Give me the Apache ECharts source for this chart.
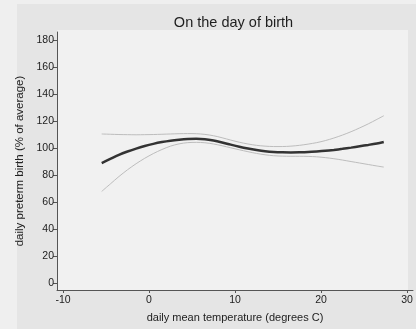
<!DOCTYPE html>
<html>
<head>
<meta charset="utf-8">
<script src="https://cdn.jsdelivr.net/npm/echarts@6/dist/echarts.min.js"></script>
<style>
html,body{margin:0;padding:0;background:#efefef;}
#chart{width:416px;height:329px;}
</style>
</head>
<body>
<div id="chart"></div>
<script>
const titleText = "On the day of birth";
const xAxisTitle = "daily mean temperature (degrees C)";
const yAxisTitle = "daily preterm birth (% of average)";
const xTicks = [-10, 0, 10, 20, 30];
const yTicks = [0, 20, 40, 60, 80, 100, 120, 140, 160, 180];
const temperature = [-5.5, -4.5, -3.5, -2.5, -1.5, -0.5, 0.5, 1.5, 2.5, 3.5, 4.5, 5.5, 6.5, 7.5, 8.5, 9.5, 10.5,
  11.5, 12.5, 13.5, 14.5, 15.5, 16.5, 17.5, 18.5, 19.5, 20.5, 21.5, 22.5, 23.5, 24.5, 25.5, 26.5, 27.3];
const estimate = [89, 92, 95, 97.5, 99.7, 101.6, 103.2, 104.5, 105.5, 106.2, 106.7, 106.9, 106.6, 105.6, 104.2, 102.6, 101.1,
  99.8, 98.7, 97.8, 97.2, 96.9, 96.8, 96.9, 97.1, 97.5, 98.0, 98.7, 99.5, 100.4, 101.4, 102.4, 103.5, 104.6];
const upperCI = [110.5, 110.3, 110.1, 110, 109.9, 110, 110.1, 110.3, 110.5, 110.7, 110.8, 110.7, 110.2, 109.2, 107.7, 106, 104.4,
  103.1, 102.1, 101.5, 101.2, 101.2, 101.5, 102.1, 103, 104.1, 105.6, 107.5, 109.7, 112.2, 115, 118, 121.3, 124];
const lowerCI = [68, 73.5, 79, 84, 88.5, 92.5, 96, 99, 101.5, 103.2, 104.1, 104.3, 104, 103.1, 101.8, 100.3, 98.8,
  97.4, 96.1, 95.1, 94.4, 94.1, 94, 94, 93.9, 93.6, 93, 92.2, 91.2, 90.1, 89, 87.9, 86.8, 86];

const pair = ys => temperature.map((x, i) => [x, ys[i]]);
const font = "Liberation Sans, Arial, sans-serif";

const chart = echarts.init(document.getElementById('chart'), null, {renderer: 'canvas'});
chart.setOption({
  animation: false,
  backgroundColor: '#efefef',
  graphic: [
    {type: 'rect', z: -10, shape: {x: 17, y: 4, width: 399, height: 325}, style: {fill: '#e5e5e5'}},
    {type: 'rect', z: -9, shape: {x: 57, y: 30, width: 351, height: 260}, style: {fill: '#f1f1f1'}}
  ],
  title: {
    text: titleText,
    left: 228.5, top: 10, textAlign: 'center',
    textStyle: {fontFamily: font, fontSize: 14.5, fontWeight: 'normal', color: '#1e1e1e'}
  },
  grid: {left: 57, right: 3, top: 32, bottom: 39},
  xAxis: {
    type: 'value', min: -10.7, max: 30.7,
    name: xAxisTitle, nameLocation: 'middle', nameGap: 22,
    nameTextStyle: {fontFamily: font, fontSize: 11, color: '#222'},
    axisLine: {show: true, onZero: false, lineStyle: {color: '#555', width: 1}},
    axisTick: {show: true, length: 3, customValues: xTicks, lineStyle: {color: '#555'}},
    axisLabel: {customValues: xTicks, fontFamily: font, fontSize: 10.5, color: '#222', margin: 5},
    splitLine: {show: false}
  },
  yAxis: {
    type: 'value', min: -5, max: 186,
    name: yAxisTitle, nameLocation: 'middle', nameGap: 27,
    nameTextStyle: {fontFamily: font, fontSize: 11.5, color: '#222'},
    axisLine: {show: true, onZero: false, lineStyle: {color: '#555', width: 1}},
    axisTick: {show: true, length: 4, customValues: yTicks, lineStyle: {color: '#555'}},
    axisLabel: {customValues: yTicks, fontFamily: font, fontSize: 10.5, color: '#222', margin: 3},
    splitLine: {show: false}
  },
  series: [
    {type: 'line', data: pair(upperCI), smooth: 0.3, showSymbol: false, lineStyle: {color: '#bdbdbd', width: 1}},
    {type: 'line', data: pair(lowerCI), smooth: 0.3, showSymbol: false, lineStyle: {color: '#bdbdbd', width: 1}},
    {type: 'line', data: pair(estimate), smooth: 0.3, showSymbol: false, lineStyle: {color: '#333333', width: 2.5}}
  ]
});
</script>
</body>
</html>
